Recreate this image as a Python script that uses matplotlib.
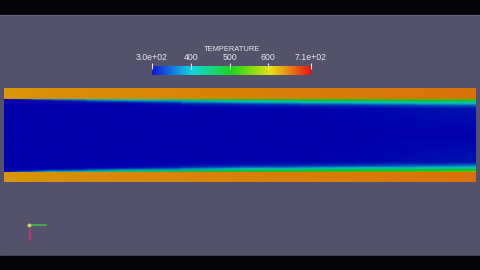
import numpy as np
import matplotlib
matplotlib.use('Agg')
import matplotlib.pyplot as plt
from matplotlib.colors import LinearSegmentedColormap, Normalize
from matplotlib.patches import Rectangle

# ---------------- data ----------------
axial_pos = [0.0, 0.03, 0.10, 0.25, 0.50, 0.75, 1.00]       # fraction of pipe length
wall_temp = [634, 635, 638, 642, 646, 650, 654]             # solid wall temperature
fluid_depth = [0, 1, 2, 3, 4, 5, 6, 8, 10, 36.5]            # distance from wall into fluid
temp_s0 = [305, 300, 300, 300, 300, 300, 300, 300, 300, 300]
temp_s1 = [345, 305, 300, 300, 300, 300, 300, 300, 300, 300]
temp_s2 = [420, 350, 315, 300, 300, 300, 300, 300, 300, 300]
temp_s3 = [480, 420, 370, 335, 310, 300, 300, 300, 300, 300]
temp_s4 = [520, 480, 440, 400, 365, 340, 320, 305, 300, 300]
temp_s5 = [540, 510, 470, 430, 395, 365, 340, 315, 302, 300]
temp_s6 = [550, 525, 490, 450, 420, 390, 365, 330, 310, 300]
fluid_radius = 36.5
outer_radius = 47.0
t_min, t_max = 300, 710
tick_values = [300, 400, 500, 600, 710]
tick_labels = ['3.0e+02', '400', '500', '600', '7.1e+02']
title = 'TEMPERATURE'

# ---------------- colours ----------------
bar_cmap = LinearSegmentedColormap.from_list(
    'bar', ['#1414dc', '#10d8e0', '#18d818', '#e8e010', '#e81414'])
pipe_cmap = LinearSegmentedColormap.from_list(
    'pipe', ['#0000ae', '#08c8c8', '#10c010', '#d8c808', '#d81008'])
norm = Normalize(t_min, t_max)
bg = '#53516b'
txt = '#e8e8f0'

fig = plt.figure(figsize=(4.8, 2.7), dpi=100)
fig.patch.set_facecolor(bg)

# background / frame axes in pixel coordinates
axb = fig.add_axes([0, 0, 1, 1])
axb.set_xlim(0, 480)
axb.set_ylim(270, 0)
axb.axis('off')
axb.add_patch(Rectangle((0, 0), 480, 14, color='#030308', zorder=1))
axb.add_patch(Rectangle((0, 256), 480, 14, color='#030308', zorder=1))
axb.plot([0, 480], [14.5, 14.5], color='#62607a', lw=0.8, zorder=2)
# orientation triad
axb.plot([29, 46], [225, 225], color='#3fb84a', lw=1.2, zorder=3)
axb.plot([30, 30], [230, 240], color='#d0306a', lw=1.2, zorder=3)
axb.plot([29], [225], marker='o', ms=1.8, color='#d8d060', zorder=4)

# ---------------- pipe field ----------------
profiles = [temp_s0, temp_s1, temp_s2, temp_s3, temp_s4, temp_s5, temp_s6]
r_top = [outer_radius, fluid_radius + 0.05] + [fluid_radius - d for d in fluid_depth]
cols = []
for wt, prof in zip(wall_temp, profiles):
    cols.append([wt, wt] + list(prof))
cols = np.array(cols).T               # rows: r_top order, cols: axial
# mirror to bottom half
r_all = np.array([-r for r in r_top] + r_top[::-1][1:])
C = np.vstack([cols, cols[::-1][1:]])
X, Y = np.meshgrid(axial_pos, r_all)

axp = fig.add_axes([4 / 480, (270 - 182) / 270, 472 / 480, 94 / 270])
axp.pcolormesh(X, Y, C, cmap=pipe_cmap, norm=norm, shading='gouraud')
axp.set_xlim(0, 1)
axp.set_ylim(-outer_radius, outer_radius)
axp.axis('off')

# ---------------- colour bar ----------------
axc = fig.add_axes([152 / 480, (270 - 74.5) / 270, 159 / 480, 8 / 270])
sm = matplotlib.cm.ScalarMappable(norm=norm, cmap=bar_cmap)
cb = fig.colorbar(sm, cax=axc, orientation='horizontal')
cb.outline.set_visible(False)
cb.set_ticks(tick_values)
cb.set_ticklabels(tick_labels)
axc.xaxis.set_ticks_position('top')
axc.xaxis.set_label_position('top')
axc.tick_params(axis='x', direction='inout', length=5, width=0.8, colors=txt,
                labelsize=6.3, pad=0.5)
for lab in axc.get_xticklabels():
    lab.set_family('Liberation Sans')
    lab.set_color(txt)
axc.set_xlabel(title, fontsize=5.4, color=txt, family='Liberation Sans', labelpad=2)

fig.savefig('out.png', dpi=100, facecolor=bg)
